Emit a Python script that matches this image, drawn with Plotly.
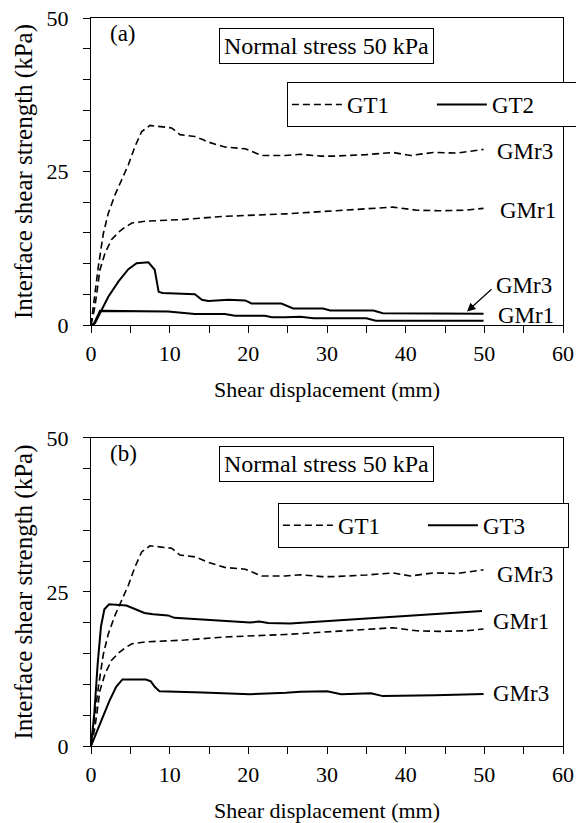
import plotly.graph_objects as go

# ---------------- data ----------------
# GT1 / GMr3 (dashed, same in both panels)
gt1_gmr3_x = [0, 0.93, 1.57, 2.2, 3.05, 3.9, 4.75, 5.6, 6.44, 7.5, 9.0, 10.25, 11.3, 13.2, 14.2, 14.9,
              16.2, 17.0, 19.6, 20.8, 21.7, 24.7, 26.6, 29.3, 30.8, 35.0, 38.4, 40.6, 43.5, 46.5, 49.9]
gt1_gmr3_y = [0, 9.5, 14.9, 18.2, 21.2, 23.6, 26.1, 29.1, 31.5, 32.5, 32.3, 32.1, 31.0, 30.7, 30.2, 29.8,
              29.3, 29.0, 28.7, 28.0, 27.6, 27.6, 27.8, 27.5, 27.5, 27.75, 28.1, 27.6, 28.1, 28.0, 28.6]

# GT1 / GMr1 (dashed, same in both panels)
gt1_gmr1_x = [0, 0.5, 1.14, 1.78, 2.6, 3.5, 4.3, 5.2, 6.9, 11.9, 17.0, 21.7, 24.7, 26.6, 33.0,
              38.4, 41.4, 44.3, 47.7, 49.9]
gt1_gmr1_y = [0, 3.0, 9.0, 11.7, 13.9, 15.1, 15.9, 16.6, 16.9, 17.2, 17.7, 17.9, 18.1, 18.25, 18.7,
              19.2, 18.7, 18.6, 18.7, 19.0]

# GT2 / GMr3 (solid, panel a)
gt2_gmr3_x = [0, 0.5, 1.14, 2.2, 3.5, 4.75, 5.8, 7.3, 8.1, 8.6, 9.1, 13.2, 14.1, 14.9, 17.5, 19.6,
              20.4, 24.2, 25.7, 29.5, 30.4, 35.9, 37.1, 49.9]
gt2_gmr3_y = [0, 0.3, 1.9, 4.6, 7.1, 9.1, 10.05, 10.2, 9.0, 5.4, 5.2, 5.0, 4.1, 3.9, 4.1, 4.0,
              3.5, 3.5, 2.7, 2.7, 2.35, 2.35, 1.9, 1.85]

# GT2 / GMr1 (solid, panel a)
gt2_gmr1_x = [0, 0.3, 1.14, 1.36, 9.8, 11.5, 13.2, 17.0, 18.3, 22.1, 23.0, 24.7, 26.6, 28.3,
              35.0, 36.2, 49.9]
gt2_gmr1_y = [0, 0, 2.3, 2.3, 2.2, 2.0, 1.8, 1.8, 1.5, 1.5, 1.25, 1.25, 1.35, 1.1,
              1.1, 0.7, 0.7]

# GT3 / GMr1 (solid, panel b)
gt3_gmr1_x = [0, 0.42, 0.85, 1.27, 1.7, 2.3, 4.5, 5.5, 6.8, 7.9, 9.8, 10.6, 14.2, 20.2, 21.4,
              22.5, 25.3, 30.0, 34.2, 40.0, 49.7]
gt3_gmr1_y = [0, 5.3, 13.4, 19.4, 22.2, 23.0, 22.8, 22.3, 21.6, 21.4, 21.2, 20.8, 20.5, 20.05, 20.2,
              19.95, 19.9, 20.3, 20.6, 21.15, 21.9]

# GT3 / GMr3 (solid, panel b)
gt3_gmr3_x = [0, 0.64, 1.49, 2.3, 3.2, 4.0, 7.0, 7.6, 8.1, 8.7, 14.2, 20.2, 24.8, 26.6, 30.0,
              31.8, 35.6, 37.1, 43.7, 49.9]
gt3_gmr3_y = [0, 2.05, 4.75, 7.2, 9.6, 10.8, 10.8, 10.5, 9.6, 8.9, 8.7, 8.4, 8.65, 8.8, 8.9,
              8.4, 8.55, 8.1, 8.25, 8.45]

x_ticks = [0, 10, 20, 30, 40, 50, 60]
y_ticks = [0, 25, 50]

FONT = "Liberation Serif, Times New Roman, serif"
FS = 22
FA = 23
DASH = "7px,4px"

fig = go.Figure()

def add(x, y, dashed, name, xa, ya, legend, show):
    fig.add_trace(go.Scatter(
        x=x, y=y, mode="lines", name=name, legendgroup=name + legend,
        showlegend=show, legend=legend, xaxis=xa, yaxis=ya,
        line=dict(color="black", width=1.6 if dashed else 2.0,
                  dash=DASH if dashed else "solid"),
        hoverinfo="skip"))

# panel (a)
add(gt1_gmr3_x, gt1_gmr3_y, True, "GT1", "x", "y", "legend", True)
add(gt1_gmr1_x, gt1_gmr1_y, True, "GT1", "x", "y", "legend", False)
add(gt2_gmr3_x, gt2_gmr3_y, False, "GT2", "x", "y", "legend", True)
add(gt2_gmr1_x, gt2_gmr1_y, False, "GT2", "x", "y", "legend", False)
# panel (b)
add(gt1_gmr3_x, gt1_gmr3_y, True, "GT1", "x2", "y2", "legend2", True)
add(gt1_gmr1_x, gt1_gmr1_y, True, "GT1", "x2", "y2", "legend2", False)
add(gt3_gmr1_x, gt3_gmr1_y, False, "GT3", "x2", "y2", "legend2", True)
add(gt3_gmr3_x, gt3_gmr3_y, False, "GT3", "x2", "y2", "legend2", False)

def xaxis(anchor):
    return dict(range=[0, 60], tickvals=x_ticks, ticks="outside", ticklen=7, tickwidth=1,
                tickcolor="black", showline=True, linecolor="black", linewidth=1, mirror=True,
                showgrid=False, zeroline=False, anchor=anchor, automargin=False,
                ticklabelstandoff=2,
                minor=dict(dtick=5, ticks="outside", ticklen=7, tickcolor="black", showgrid=False),
                tickfont=dict(family=FONT, size=FS, color="black"),
                title=dict(text="Shear displacement (mm)", font=dict(family=FONT, size=FS, color="black"),
                           standoff=16))

def yaxis(domain, anchor):
    return dict(range=[0, 50], tickvals=y_ticks, ticks="outside", ticklen=7, tickwidth=1,
                tickcolor="black", showline=True, linecolor="black", linewidth=1, mirror=True,
                showgrid=False, zeroline=False, domain=domain, anchor=anchor, automargin=False,
                ticklabelstandoff=10,
                minor=dict(dtick=5, ticks="outside", ticklen=7, tickcolor="black", showgrid=False),
                tickfont=dict(family=FONT, size=FS, color="black"),
                title=dict(text="Interface shear strength (kPa)",
                           font=dict(family=FONT, size=25, color="black"), standoff=6))

legend_common = dict(orientation="h", bgcolor="white", bordercolor="black", borderwidth=1,
                     font=dict(family=FONT, size=FA, color="black"), xanchor="left", yanchor="top",
                     entrywidth=80, entrywidthmode="pixels", itemwidth=50, tracegroupgap=0)

annots = []
def txt(text, x, y, xref, yref, size=FA, **kw):
    d = dict(text=text, x=x, y=y, xref=xref, yref=yref, showarrow=False, xanchor="left",
             yanchor="middle", font=dict(family=FONT, size=size, color="black"))
    d.update(kw)
    annots.append(d)

# panel (a) labels
txt("(a)", 0.037, 0.951, "x domain", "y domain")
txt("Normal stress 50 kPa", 0.498, 0.910, "x domain", "y domain", size=24, xanchor="center",
    bordercolor="black", borderwidth=1, borderpad=4, bgcolor="white")
txt("GMr3", 51.4, 28.2, "x", "y")
txt("GMr1", 51.7, 18.7, "x", "y")
txt("GMr3", 51.2, 6.4, "x", "y")
txt("GMr1", 51.5, 1.6, "x", "y")
annots.append(dict(text="", x=47.8, y=2.2, ax=51.1, ay=6.05, xref="x", yref="y", axref="x",
                   ayref="y", showarrow=True, arrowhead=2, arrowsize=1.4, arrowwidth=1.2,
                   arrowcolor="black", standoff=0, startstandoff=0))
# panel (b) labels
txt("(b)", 0.037, 0.951, "x2 domain", "y2 domain")
txt("Normal stress 50 kPa", 0.498, 0.915, "x2 domain", "y2 domain", size=24, xanchor="center",
    bordercolor="black", borderwidth=1, borderpad=4, bgcolor="white")
txt("GMr3", 51.4, 27.8, "x2", "y2")
txt("GMr1", 50.9, 20.2, "x2", "y2")
txt("GMr3", 50.9, 8.55, "x2", "y2")

fig.update_layout(
    width=576, height=823,
    margin=dict(l=91, r=13, t=18, b=77, autoexpand=False),
    paper_bgcolor="white", plot_bgcolor="white",
    font=dict(family=FONT, size=FS, color="black"),
    xaxis=xaxis("y"),
    yaxis=yaxis([0.5783, 1.0], "x"),
    xaxis2=xaxis("y2"),
    yaxis2=yaxis([0.0, 0.4231], "x2"),
    legend=dict(x=0.415, y=0.912, **legend_common),
    legend2=dict(x=0.396, y=0.334, **legend_common),
    annotations=annots,
)

fig.write_html("out.html", config={"displayModeBar": False},
               post_script="document.body.style.margin='0';document.body.style.overflow='hidden';")
